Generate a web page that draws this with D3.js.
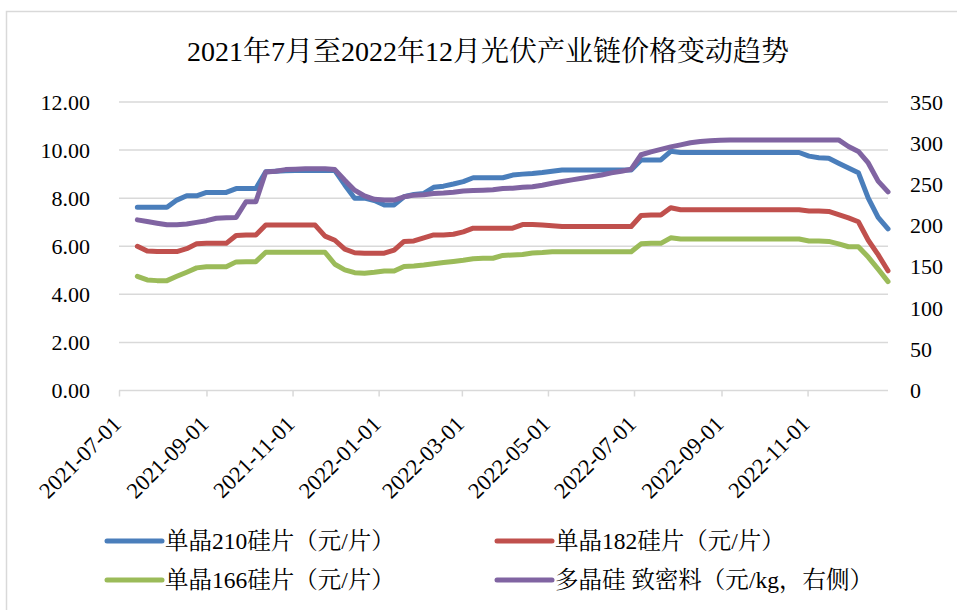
<!DOCTYPE html>
<html><head><meta charset="utf-8">
<script src="https://cdn.jsdelivr.net/npm/d3@7/dist/d3.min.js"></script>
<style>
html,body{margin:0;padding:0;background:#fff;}
svg{display:block;}
</style></head>
<body>
<svg id="chart" width="957" height="610"></svg>
<script>
const title = "2021年7月至2022年12月光伏产业链价格变动趋势";
const dates = [
"2021-07-14","2021-07-21","2021-07-28","2021-08-04","2021-08-11","2021-08-18","2021-08-25",
"2021-09-01","2021-09-08","2021-09-15","2021-09-22","2021-09-29","2021-10-06","2021-10-13",
"2021-10-20","2021-10-27","2021-11-03","2021-11-10","2021-11-17","2021-11-24","2021-12-01",
"2021-12-08","2021-12-15","2021-12-22","2021-12-29","2022-01-05","2022-01-12","2022-01-19",
"2022-01-26","2022-02-02","2022-02-09","2022-02-16","2022-02-23","2022-03-02","2022-03-09",
"2022-03-16","2022-03-23","2022-03-30","2022-04-06","2022-04-13","2022-04-20","2022-04-27",
"2022-05-04","2022-05-11","2022-05-18","2022-05-25","2022-06-01","2022-06-08","2022-06-15",
"2022-06-22","2022-06-29","2022-07-06","2022-07-13","2022-07-20","2022-07-27","2022-08-03",
"2022-08-10","2022-08-17","2022-08-24","2022-08-31","2022-09-07","2022-09-14","2022-09-21",
"2022-09-28","2022-10-05","2022-10-12","2022-10-19","2022-10-26","2022-11-02","2022-11-09",
"2022-11-16","2022-11-23","2022-11-30","2022-12-07","2022-12-14","2022-12-21","2022-12-28"];

const wafer210 = [7.62,7.62,7.62,7.62,7.92,8.1,8.1,8.24,8.24,8.24,8.4,8.4,8.4,9.1,9.12,9.14,9.15,9.15,9.15,9.15,9.15,
8.55,8.0,8.0,7.9,7.72,7.72,8.06,8.15,8.2,8.45,8.5,8.59,8.69,8.85,8.85,8.85,8.85,8.96,9.0,9.03,9.07,9.12,9.17,
9.17,9.17,9.17,9.17,9.17,9.17,9.17,9.59,9.59,9.59,9.95,9.9,
9.9,9.9,9.9,9.9,9.9,9.9,9.9,9.9,9.9,9.9,9.9,9.9,9.75,9.68,9.66,9.45,9.25,9.06,8.0,7.2,6.72];

const wafer182 = [6.0,5.8,5.78,5.78,5.78,5.9,6.1,6.12,6.12,6.12,6.45,6.47,6.47,6.88,6.88,6.88,6.88,6.88,6.88,6.42,6.25,
5.88,5.73,5.71,5.71,5.71,5.84,6.2,6.22,6.35,6.47,6.47,6.5,6.6,6.75,6.75,6.75,6.75,6.75,6.9,6.9,6.88,6.85,6.82,
6.82,6.82,6.82,6.82,6.82,6.82,6.82,7.28,7.3,7.3,7.6,7.52,
7.52,7.52,7.52,7.52,7.52,7.52,7.52,7.52,7.52,7.52,7.52,7.52,7.47,7.47,7.45,7.32,7.18,7.02,6.25,5.65,4.98];

const wafer166 = [4.75,4.6,4.57,4.57,4.75,4.92,5.1,5.15,5.15,5.15,5.35,5.36,5.36,5.75,5.75,5.75,5.75,5.75,5.75,5.75,5.25,
5.02,4.9,4.88,4.92,4.97,4.97,5.16,5.18,5.22,5.27,5.32,5.37,5.42,5.48,5.5,5.5,5.62,5.64,5.66,5.72,5.74,5.77,5.77,
5.77,5.77,5.77,5.77,5.77,5.77,5.77,6.1,6.12,6.12,6.35,6.3,
6.3,6.3,6.3,6.3,6.3,6.3,6.3,6.3,6.3,6.3,6.3,6.3,6.22,6.22,6.2,6.1,5.98,5.98,5.55,5.05,4.53];

const polysilicon = [207,205,203,201,201,202,204,206,209,209.5,210,229,229,265,266,268,268.5,269,269,269,268,
255,243,236,232,231,231,235,237,237.5,239,239.5,240.5,242,242.5,243,243.5,245,245.5,246.5,247.3,249,251.5,253.5,
255.5,257.5,259.5,261.5,264,266,268.5,286,289.5,292.5,295.5,298,
300.5,302,303,303.5,304,304,304,304,304,304,304,304,304,304,304,304,296,290,276,254,241];

const seriesNames = ["单晶210硅片（元/片）","单晶182硅片（元/片）","单晶166硅片（元/片）","多晶硅 致密料（元/kg，右侧）"];
const seriesColors = ["#4a7ebb","#c0504d","#9bbb59","#8064a2"];
const leftTicks = [0,2,4,6,8,10,12];
const rightTicks = [0,50,100,150,200,250,300,350];
const xTicks = ["2021-07-01","2021-09-01","2021-11-01","2022-01-01","2022-03-01","2022-05-01","2022-07-01","2022-09-01","2022-11-01"];
const xDomain = ["2021-07-01","2022-12-28"];

const parse = d3.utcParse("%Y-%m-%d");
const fmt = d3.utcFormat("%Y-%m-%d");
const LATIN = '"Liberation Serif"';
const CJK = '"Noto Serif CJK SC"';

// split mixed text into CJK / Latin runs, each with a single font family
function mixedText(sel, str) {
  const re = /[\u3000-\u303f\u4e00-\u9fff\uff00-\uffef]+|[^\u3000-\u303f\u4e00-\u9fff\uff00-\uffef]+/g;
  (str.match(re) || []).forEach(run => {
    const isCJK = /[\u3000-\u303f\u4e00-\u9fff\uff00-\uffef]/.test(run);
    sel.append("tspan").style("font-family", isCJK ? CJK : LATIN).text(run);
  });
  return sel;
}

const svg = d3.select("#chart");
const L = 119, R = 888, T = 102, B = 390.5;

svg.append("rect").attr("x",6.5).attr("y",11.5).attr("width",990).attr("height",700)
  .attr("fill","none").attr("stroke","#d9d9d9").attr("stroke-width",1.5);

const x = d3.scaleUtc().domain(xDomain.map(parse)).range([L,R]);
const yL = d3.scaleLinear().domain([0,12]).range([B,T]);
const yR = d3.scaleLinear().domain([0,350]).range([B,T]);

// title
mixedText(svg.append("text").attr("x",488).attr("y",61).attr("text-anchor","middle")
  .style("font-size","28px").attr("fill","#000"), title);

// gridlines
svg.append("g").selectAll("line").data(leftTicks.filter(d=>d>0)).join("line")
  .attr("x1",L).attr("x2",R).attr("y1",d=>yL(d)).attr("y2",d=>yL(d))
  .attr("stroke","#d9d9d9").attr("stroke-width",1.5);

// left axis
const gL = svg.append("g").attr("transform",`translate(${L},0)`)
  .call(d3.axisLeft(yL).tickValues(leftTicks).tickFormat(d3.format(".2f")).tickSize(0).tickPadding(29));
gL.select(".domain").remove();
gL.selectAll("text").style("font-family",LATIN).style("font-size","22px").attr("fill","#000");

// right axis
const gR = svg.append("g").attr("transform",`translate(${R},0)`)
  .call(d3.axisRight(yR).tickValues(rightTicks).tickSize(0).tickPadding(22));
gR.select(".domain").remove();
gR.selectAll("text").style("font-family",LATIN).style("font-size","22px").attr("fill","#000");

// x axis
const gX = svg.append("g").attr("transform",`translate(0,${B})`)
  .call(d3.axisBottom(x).tickValues(xTicks.map(parse)).tickFormat(fmt).tickSize(6).tickPadding(4));
gX.select(".domain").attr("stroke","#d9d9d9").attr("stroke-width",1.5).attr("d",`M${L},0H${R}`);
gX.selectAll(".tick line").attr("stroke","#d9d9d9").attr("stroke-width",1.5);
gX.selectAll("text").style("font-family",LATIN).style("font-size","22.5px").attr("fill","#000")
  .attr("text-anchor","end").attr("dy","0").attr("y",0)
  .attr("transform","translate(3,35) rotate(-45)");

// lines
const leftSeries = [wafer210, wafer182, wafer166];
const lineL = d3.line().x((d,i)=>x(parse(dates[i]))).y(d=>yL(d));
const lineR = d3.line().x((d,i)=>x(parse(dates[i]))).y(d=>yR(d));
const g = svg.append("g");
leftSeries.forEach((s,k)=>{
  g.append("path").attr("d",lineL(s)).attr("fill","none").attr("stroke",seriesColors[k])
    .attr("stroke-width",5).attr("stroke-linejoin","round").attr("stroke-linecap","round");
});
g.append("path").attr("d",lineR(polysilicon)).attr("fill","none").attr("stroke",seriesColors[3])
  .attr("stroke-width",5).attr("stroke-linejoin","round").attr("stroke-linecap","round");

// legend
const legPos = [[107,541],[497,541],[107,580],[497,580]];
const lg = svg.append("g");
seriesNames.forEach((n,k)=>{
  const [lx,ly] = legPos[k];
  lg.append("line").attr("x1",lx).attr("x2",lx+55).attr("y1",ly).attr("y2",ly)
    .attr("stroke",seriesColors[k]).attr("stroke-width",5).attr("stroke-linecap","round");
  mixedText(lg.append("text").attr("x",lx+58).attr("y",ly+8).style("font-size","23.5px").attr("fill","#000"), n);
});
</script>
</body></html>
